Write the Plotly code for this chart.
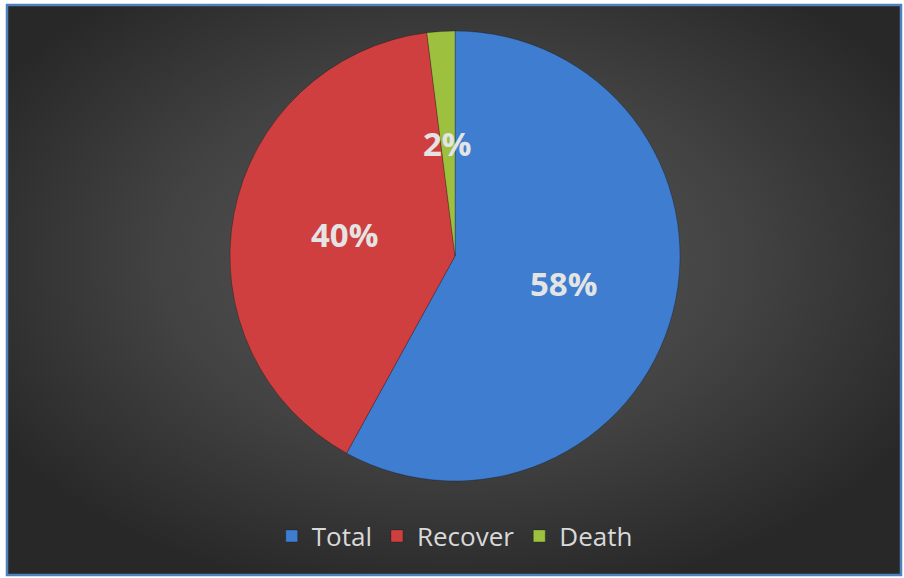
import base64
import math

import plotly.graph_objects as go

labels = ["Total", "Recover", "Death"]
values = [58, 40, 2]
colors = ["#3e7dcf", "#d03f3f", "#9dc03f"]

W, H = 904, 578
CX, CY, R = 455, 256, 225

# dark chart area with a soft radial glow in the middle
svg = f"""<svg xmlns='http://www.w3.org/2000/svg' width='{W}' height='{H}'>
<defs><radialGradient id='g' cx='50%' cy='45%' r='60%'>
<stop offset='0%' stop-color='#5a5a5a'/>
<stop offset='55%' stop-color='#424242'/>
<stop offset='100%' stop-color='#282828'/>
</radialGradient></defs>
<rect x='7' y='5' width='894' height='570' fill='url(#g)' stroke='#4f81bd' stroke-width='2.5'/>
</svg>"""
bg_src = "data:image/svg+xml;base64," + base64.b64encode(svg.encode()).decode()

fig = go.Figure(
    go.Pie(
        labels=labels,
        values=values,
        sort=False,
        direction="clockwise",
        rotation=0,
        marker=dict(colors=colors, line=dict(color="rgba(0,0,0,0.25)", width=1)),
        textinfo="none",
        hoverinfo="label+percent",
        domain=dict(
            x=[(CX - R) / W, (CX + R) / W],
            y=[1 - (CY + R) / H, 1 - (CY - R) / H],
        ),
    )
)

# percentage labels at half radius, mid-angle of each slice
total = sum(values)
cum = 0
for v in values:
    mid = (cum + v / 2) / total * 2 * math.pi
    cum += v
    px = CX + 0.5 * R * math.sin(mid)
    py = CY - 0.5 * R * math.cos(mid)
    fig.add_annotation(
        x=px / W, y=1 - py / H, xref="paper", yref="paper",
        xanchor="center", yanchor="middle",
        text=f"{round(v / total * 100)}%", showarrow=False,
        font=dict(family="Open Sans", size=33, color="#e4e4e4", weight="bold"),
    )

fig.update_layout(
    width=W,
    height=H,
    margin=dict(t=0, r=0, l=0, b=0),
    paper_bgcolor="white",
    plot_bgcolor="rgba(0,0,0,0)",
    images=[dict(source=bg_src, xref="paper", yref="paper", x=0, y=1,
                 sizex=1, sizey=1, sizing="stretch", layer="below")],
    legend=dict(
        orientation="h", x=0.503, xanchor="center", y=1 - 536 / H, yanchor="middle",
        font=dict(family="Open Sans", size=26, color="#d9d9d9"),
        bgcolor="rgba(0,0,0,0)", itemclick=False,
    ),
)

fig.write_html(
    "out.html",
    config={"displayModeBar": False},
    post_script="document.body.style.margin='0';document.body.style.overflow='hidden';",
)
